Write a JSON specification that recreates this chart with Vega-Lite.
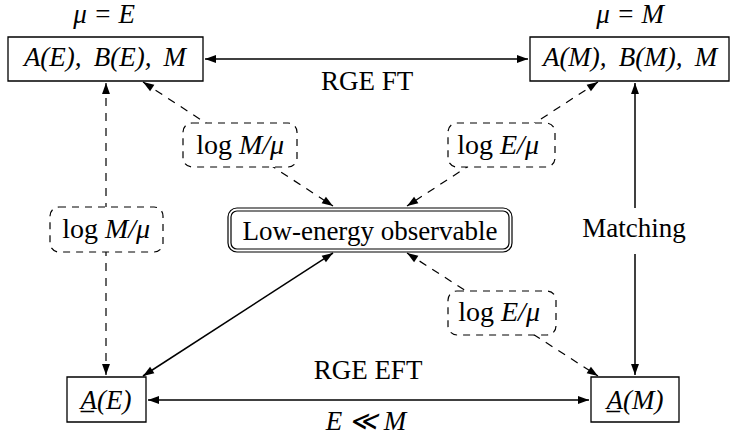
{
  "$schema": "https://vega.github.io/schema/vega-lite/v6.json",
  "width": 735,
  "height": 438,
  "padding": 0,
  "autosize": {"type": "fit", "contains": "padding"},
  "config": {"view": {"stroke": null}},
  "datasets": {
    "lines": [
      {"x": 205, "y": 59, "x2": 528, "y2": 59, "style": "solid"},
      {"x": 148, "y": 400, "x2": 589, "y2": 400, "style": "solid"},
      {"x": 106, "y": 83, "x2": 106, "y2": 375, "style": "dashed"},
      {"x": 635, "y": 83, "x2": 635, "y2": 375, "style": "solid"},
      {"x": 143, "y": 82, "x2": 333, "y2": 206, "style": "dashed"},
      {"x": 598, "y": 82, "x2": 407, "y2": 206, "style": "dashed"},
      {"x": 407, "y": 253, "x2": 598, "y2": 376, "style": "dashed"},
      {"x": 143, "y": 376, "x2": 333, "y2": 253, "style": "solid"}
    ],
    "heads": [
      {"x": 205, "y": 59, "dir": 270}, {"x": 528, "y": 59, "dir": 90},
      {"x": 148, "y": 400, "dir": 270}, {"x": 589, "y": 400, "dir": 90},
      {"x": 106, "y": 83, "dir": 0}, {"x": 106, "y": 375, "dir": 180},
      {"x": 635, "y": 83, "dir": 0}, {"x": 635, "y": 375, "dir": 180},
      {"x": 143, "y": 82, "dir": 303}, {"x": 333, "y": 206, "dir": 123},
      {"x": 598, "y": 82, "dir": 57}, {"x": 407, "y": 206, "dir": 237},
      {"x": 407, "y": 253, "dir": 303}, {"x": 598, "y": 376, "dir": 123},
      {"x": 143, "y": 376, "dir": 237}, {"x": 333, "y": 253, "dir": 57}
    ],
    "boxes": [
      {"x": 8, "y": 37, "x2": 203, "y2": 81, "kind": "plain"},
      {"x": 530, "y": 37, "x2": 729, "y2": 81, "kind": "plain"},
      {"x": 67, "y": 377, "x2": 146, "y2": 422, "kind": "plain"},
      {"x": 591, "y": 377, "x2": 679, "y2": 422, "kind": "plain"},
      {"x": 183, "y": 123, "x2": 297, "y2": 167, "kind": "dashed"},
      {"x": 448, "y": 123, "x2": 555, "y2": 167, "kind": "dashed"},
      {"x": 50, "y": 207, "x2": 163, "y2": 252, "kind": "dashed"},
      {"x": 448, "y": 291, "x2": 556, "y2": 335, "kind": "dashed"},
      {"x": 228, "y": 208, "x2": 512, "y2": 252, "kind": "outer"},
      {"x": 231, "y": 211, "x2": 509, "y2": 249, "kind": "inner"},
      {"x": 577, "y": 208, "x2": 691, "y2": 254, "kind": "mask"}
    ],
    "labels": [
      {"x": 104, "y": 23, "t": "μ = E", "kind": "math"},
      {"x": 630, "y": 23, "t": "μ = M", "kind": "math"},
      {"x": 105, "y": 66, "t": "A(E), \u2009B(E), \u2009M", "kind": "math"},
      {"x": 630, "y": 66, "t": "A(M), \u2009B(M), \u2009M", "kind": "math"},
      {"x": 106, "y": 409, "t": "A̲(E)", "kind": "math"},
      {"x": 635, "y": 409, "t": "A̲(M)", "kind": "math"},
      {"x": 366, "y": 430, "t": "E ≪ M", "kind": "math"},
      {"x": 367, "y": 90, "t": "RGE FT", "kind": "roman"},
      {"x": 368, "y": 379, "t": "RGE EFT", "kind": "roman"},
      {"x": 370, "y": 240, "t": "Low-energy observable", "kind": "roman"},
      {"x": 634, "y": 237, "t": "Matching", "kind": "roman"}
    ],
    "logs": [
      {"x": 240, "y": 154, "v": "M/μ"},
      {"x": 501, "y": 154, "v": "E/μ"},
      {"x": 106, "y": 238, "v": "M/μ"},
      {"x": 502, "y": 321, "v": "E/μ"}
    ]
  },
  "encoding": {
    "x": {"field": "x", "type": "quantitative", "scale": {"domain": [0, 735], "nice": false, "zero": false}, "axis": null},
    "y": {"field": "y", "type": "quantitative", "scale": {"domain": [0, 438], "nice": false, "zero": false, "reverse": true}, "axis": null}
  },
  "layer": [
    {
      "data": {"name": "lines"},
      "transform": [{"filter": "datum.style === 'solid'"}],
      "mark": {"type": "rule", "stroke": "black", "strokeWidth": 1.5},
      "encoding": {"x2": {"field": "x2"}, "y2": {"field": "y2"}}
    },
    {
      "data": {"name": "lines"},
      "transform": [{"filter": "datum.style === 'dashed'"}],
      "mark": {"type": "rule", "stroke": "black", "strokeWidth": 1.2, "strokeDash": [8, 7]},
      "encoding": {"x2": {"field": "x2"}, "y2": {"field": "y2"}}
    },
    {
      "data": {"name": "boxes"},
      "transform": [{"filter": "datum.kind === 'plain'"}],
      "mark": {"type": "rect", "fill": "white", "stroke": "black", "strokeWidth": 1.3},
      "encoding": {"x2": {"field": "x2"}, "y2": {"field": "y2"}}
    },
    {
      "data": {"name": "boxes"},
      "transform": [{"filter": "datum.kind === 'mask'"}],
      "mark": {"type": "rect", "fill": "white", "strokeWidth": 0},
      "encoding": {"x2": {"field": "x2"}, "y2": {"field": "y2"}}
    },
    {
      "data": {"name": "boxes"},
      "transform": [{"filter": "datum.kind === 'dashed'"}],
      "mark": {"type": "rect", "fill": "white", "stroke": "black", "strokeWidth": 1.2, "strokeDash": [7, 6], "cornerRadius": 9},
      "encoding": {"x2": {"field": "x2"}, "y2": {"field": "y2"}}
    },
    {
      "data": {"name": "boxes"},
      "transform": [{"filter": "datum.kind === 'outer'"}],
      "mark": {"type": "rect", "fill": "white", "stroke": "black", "strokeWidth": 1.2, "cornerRadius": 9},
      "encoding": {"x2": {"field": "x2"}, "y2": {"field": "y2"}}
    },
    {
      "data": {"name": "boxes"},
      "transform": [{"filter": "datum.kind === 'inner'"}],
      "mark": {"type": "rect", "fill": "white", "stroke": "black", "strokeWidth": 1.2, "cornerRadius": 6},
      "encoding": {"x2": {"field": "x2"}, "y2": {"field": "y2"}}
    },
    {
      "data": {"name": "labels"},
      "transform": [{"filter": "datum.kind === 'math'"}],
      "mark": {"type": "text", "font": "Liberation Serif", "fontSize": 27, "fontStyle": "italic", "align": "center", "baseline": "alphabetic", "fill": "black"},
      "encoding": {"text": {"field": "t"}}
    },
    {
      "data": {"name": "labels"},
      "transform": [{"filter": "datum.kind === 'roman'"}],
      "mark": {"type": "text", "font": "Liberation Serif", "fontSize": 27, "align": "center", "baseline": "alphabetic", "fill": "black"},
      "encoding": {"text": {"field": "t"}}
    },
    {
      "data": {"name": "logs"},
      "mark": {"type": "text", "font": "Liberation Serif", "fontSize": 28, "align": "right", "baseline": "alphabetic", "dx": -8, "fill": "black"},
      "encoding": {"text": {"value": "log"}}
    },
    {
      "data": {"name": "logs"},
      "mark": {"type": "text", "font": "Liberation Serif", "fontSize": 28, "fontStyle": "italic", "align": "left", "baseline": "alphabetic", "dx": -1, "fill": "black"},
      "encoding": {"text": {"field": "v"}}
    },
    {
      "data": {"name": "heads"},
      "mark": {"type": "point", "shape": "M0,0L0.36,1L-0.36,1Z", "size": 484, "filled": true, "fill": "black", "strokeWidth": 0, "opacity": 1},
      "encoding": {"angle": {"field": "dir", "type": "quantitative", "scale": null}}
    }
  ]
}
